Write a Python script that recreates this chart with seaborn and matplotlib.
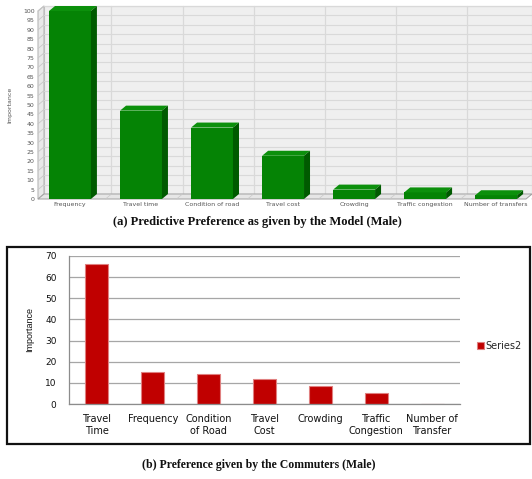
import matplotlib
matplotlib.use("Agg")
import matplotlib.pyplot as plt
from matplotlib.patches import Polygon, Rectangle, Patch
import pandas as pd
import seaborn as sns

# Panel (a): importance predicted by the model
model_factors = ["Frequency", "Travel time", "Condition of road", "Travel cost",
                 "Crowding", "Traffic congestion", "Number of transfers"]
model_importance = [100, 47, 38, 23, 5, 3.5, 2]
model_yticks = list(range(0, 101, 5))

# Panel (b): importance stated by commuters
commuter_factors = ["Travel\nTime", "Frequency", "Condition\nof Road", "Travel\nCost",
                    "Crowding", "Traffic\nCongestion", "Number of\nTransfer"]
commuter_importance = [66, 15, 14, 12, 8.5, 5, 0]
commuter_yticks = list(range(0, 71, 10))

sns.set_style("white")

W, H = 532, 479
fig = plt.figure(figsize=(W / 100, H / 100), dpi=100)
fig.patch.set_facecolor("white")


def fx(px):
    return px / W


def fy(py):
    return 1 - py / H


# ---------------- panel (a): pseudo-3D green column chart ----------------
left_px, right_px, base_px, top_px = 38, 526, 199, 11
ax1 = fig.add_axes([fx(left_px), fy(base_px), fx(right_px) - fx(left_px), fy(top_px) - fy(base_px)])
xl, xr = -0.45, 6.42
ax1.set_xlim(xl, xr)
ax1.set_ylim(0, 100)
ax1.set_facecolor("none")
for s in ax1.spines.values():
    s.set_visible(False)

# depth of the 3D effect expressed in data units
dx = 6 * (xr - xl) / (right_px - left_px)
dy = 5 * 100 / (base_px - top_px)

# back wall
ax1.add_patch(Polygon([(xl + dx, dy), (xr + dx, dy), (xr + dx, 100 + dy), (xl + dx, 100 + dy)],
                      closed=True, fc="#efefef", ec="#c8c8c8", lw=0.8, zorder=0, clip_on=False))
# left wall
ax1.add_patch(Polygon([(xl, 0), (xl + dx, dy), (xl + dx, 100 + dy), (xl, 100)],
                      closed=True, fc="#e9e9e9", ec="#b8b8b8", lw=0.8, zorder=0.2, clip_on=False))
# horizontal grid on back and left walls
for v in model_yticks:
    ax1.plot([xl + dx, xr + dx], [v + dy, v + dy], color="#d9d9d9", lw=0.8, zorder=0.5, clip_on=False)
    ax1.plot([xl, xl + dx], [v, v + dy], color="#c8c8c8", lw=0.6, zorder=0.5, clip_on=False)
# vertical grid between categories on back wall
for k in range(len(model_factors)):
    xb = k + 0.5 + dx
    ax1.plot([xb, xb], [dy, 100 + dy], color="#d9d9d9", lw=0.9, zorder=0.5, clip_on=False)
    ax1.plot([k + 0.5, xb], [0, dy], color="#c8c8c8", lw=0.5, zorder=1.1, clip_on=False)
# floor
ax1.add_patch(Polygon([(xl, 0), (xr, 0), (xr + dx, dy), (xl + dx, dy)],
                      closed=True, fc="#e6e6e6", ec="#a0a0a0", lw=0.7, zorder=1, clip_on=False))

df_model = pd.DataFrame({"factor": model_factors, "importance": model_importance})
sns.barplot(data=df_model, x="factor", y="importance", color="#058305", saturation=1,
            width=0.59, ax=ax1, zorder=2, linewidth=0)
ax1.set_xlim(xl, xr)
ax1.set_ylim(0, 100)

for p in list(ax1.patches):
    if not isinstance(p, Rectangle):
        continue
    x0, w, h = p.get_x(), p.get_width(), p.get_height()
    ax1.add_patch(Polygon([(x0, h), (x0 + w, h), (x0 + w + dx, h + dy), (x0 + dx, h + dy)],
                          closed=True, fc="#0c900c", ec="none", zorder=2.1, clip_on=False))
    ax1.add_patch(Polygon([(x0 + w, 0), (x0 + w + dx, dy), (x0 + w + dx, h + dy), (x0 + w, h)],
                          closed=True, fc="#005a00", ec="none", zorder=2.1, clip_on=False))

ax1.set_yticks(model_yticks)
ax1.set_yticklabels([str(v) for v in model_yticks], fontsize=4.5, color="#555555")
ax1.set_xticks(range(len(model_factors)))
ax1.set_xticklabels(model_factors, fontsize=4.5, color="#555555")
ax1.tick_params(axis="both", length=0, pad=2.5)
ax1.set_xlabel("")
ax1.set_ylabel("Importance", fontsize=4.5, color="#555555")
ax1.yaxis.set_label_coords(-0.052, 0.5)

fig.text(fx(257), fy(222), "(a) Predictive Preference as given by the Model (Male)",
         ha="center", va="center", fontsize=9, fontweight="bold",
         family="Liberation Serif", color="#111111")

# ---------------- panel (b): commuters' preference ----------------
fig.add_artist(Rectangle((fx(7), fy(444)), fx(530) - fx(7), fy(247) - fy(444),
                         transform=fig.transFigure, fill=False, ec="#111111", lw=1.6))

ax2 = fig.add_axes([fx(69), fy(404), fx(460) - fx(69), fy(256) - fy(404)])
df_comm = pd.DataFrame({"factor": commuter_factors, "importance": commuter_importance})
sns.barplot(data=df_comm, x="factor", y="importance", color="#c00000", saturation=1,
            width=0.41, ax=ax2, edgecolor="#e08080", linewidth=0.8, zorder=2)
ax2.set_xlim(-0.5, 6.5)
ax2.set_ylim(0, 70)
ax2.set_yticks(commuter_yticks)
ax2.set_yticklabels([str(v) for v in commuter_yticks], fontsize=6.5, color="#111111")
ax2.yaxis.grid(True, color="#a6a6a6", lw=0.9, zorder=0)
ax2.xaxis.grid(False)
ax2.set_axisbelow(True)
for side in ("top", "right"):
    ax2.spines[side].set_visible(False)
for side in ("left", "bottom"):
    ax2.spines[side].set_color("#8c8c8c")
    ax2.spines[side].set_linewidth(0.9)
ax2.set_xticks(range(len(commuter_factors)))
ax2.set_xticklabels(commuter_factors, fontsize=7, color="#111111", linespacing=1.25)
ax2.set_xticks([k - 0.5 for k in range(len(commuter_factors) + 1)], minor=True)
ax2.tick_params(axis="x", which="major", length=0, pad=7)
ax2.tick_params(axis="x", which="minor", length=3, direction="out", color="#8c8c8c")
ax2.tick_params(axis="y", length=3, direction="out", color="#8c8c8c", pad=6)
ax2.set_xlabel("")
ax2.set_ylabel("Importance", fontsize=6.5, family="Liberation Sans", color="#111111")
ax2.yaxis.set_label_coords(-0.088, 0.5)

fig.legend(handles=[Patch(fc="#c00000", ec="#e08080", lw=0.8, label="Series2")],
           loc="center left", bbox_to_anchor=(fx(477), fy(346)), frameon=False,
           fontsize=7, handlelength=0.7, handleheight=0.7, handletextpad=0.2,
           borderpad=0, borderaxespad=0)

fig.text(fx(259), fy(465), "(b) Preference given by the Commuters (Male)",
         ha="center", va="center", fontsize=8.5, fontweight="bold",
         family="Liberation Serif", color="#111111")

fig.savefig("out.png", dpi=100, facecolor="white")
